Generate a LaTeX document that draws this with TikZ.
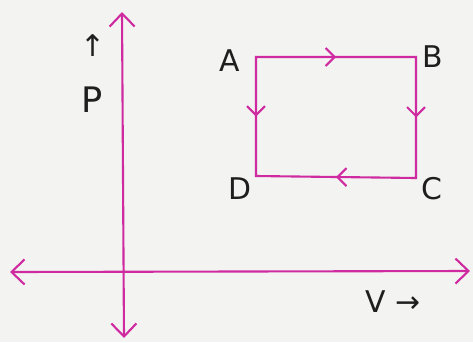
\documentclass[tikz,border=0pt]{standalone}
\usepackage{fontspec}
\setmainfont{DejaVu Sans}
\usetikzlibrary{arrows.meta,decorations.markings}
\definecolor{PvMagenta}{HTML}{CF2AA0}
\definecolor{PvInk}{HTML}{1E1E1E}
\definecolor{PvPaper}{HTML}{F3F3F2}

\begin{document}
\begin{tikzpicture}[
    x=0.02cm,y=-0.02cm,
    axis/.style={draw=PvMagenta,line width=1.2pt,{Straight Barb[length=2.6mm,width=5mm]}-{Straight Barb[length=2.6mm,width=5mm]}},
    cycle/.style={draw=PvMagenta,line width=1.2pt},
    midarrow/.style={postaction={decorate},decoration={markings,
      mark=at position 0.5 with {\arrow[draw=PvMagenta,line width=1.2pt]{Straight Barb[length=1.8mm,width=3.6mm]}}}},
    lbl/.style={text=PvInk,font=\fontsize{17}{19}\selectfont,inner sep=0pt}
  ]
    \fill[PvPaper] (0,0) rectangle (473,342);
    \useasboundingbox (0,0) rectangle (473,342);
    % axes
    \coordinate (ytop) at (122,12);
    \coordinate (ybot) at (124,338);
    \coordinate (xleft) at (10,272);
    \coordinate (xright) at (470,271);
    \draw[axis] (ybot) -- (ytop);
    \draw[axis] (xleft) -- (xright);
    % cycle
    \coordinate (A) at (256,57);
    \coordinate (B) at (416,57);
    \coordinate (C) at (416,178);
    \coordinate (D) at (256,176);
    \draw[cycle] (A) -- (B) -- (C) -- (D) -- cycle;
    \path[midarrow] (A) -- (B);
    \path[midarrow] (B) -- (C);
    \path[midarrow] (C) -- (D);
    \path[midarrow] (A) -- (D);
    \node[lbl] (la) at (230,61) {A};
    \node[lbl] (lb) at (433,57) {B};
    \node[lbl] (lc) at (432,189) {C};
    \node[lbl] (ld) at (240,189) {D};
    % axis labels
    \node[lbl] (parrow) at (93,46) {↑};
    \node[lbl,font=\fontsize{20}{22}\selectfont] (plabel) at (92,100) {P};
    \node[lbl] (vlabel) at (393,302) {V →};
  \end{tikzpicture}
\end{document}
